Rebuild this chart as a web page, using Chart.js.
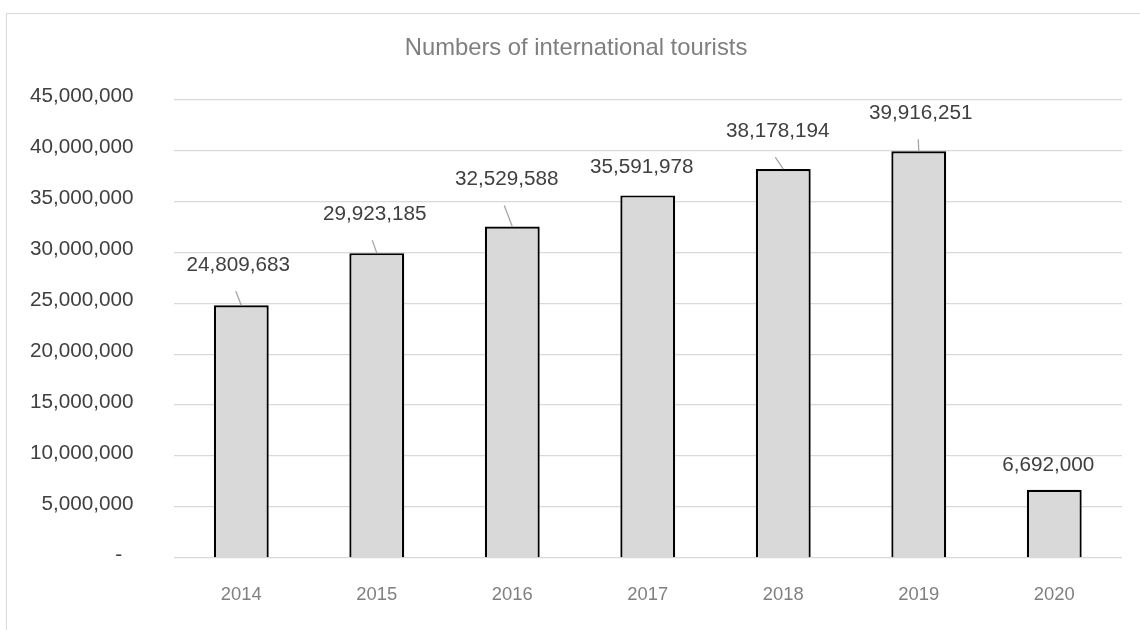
<!DOCTYPE html>
<html>
<head>
<meta charset="utf-8">
<script src="https://cdn.jsdelivr.net/npm/chart.js@4/dist/chart.umd.min.js"></script>
<style>
  html, body { margin: 0; padding: 0; background: #fff; overflow: hidden; }
  #frame { position: absolute; left: 6px; top: 13px; width: 1300px; height: 700px;
           border: 1.5px solid #d9d9d9; }
  #chart { position: absolute; left: 0; top: 0; }
</style>
</head>
<body>
<div id="frame"></div>
<canvas id="chart" width="1140" height="630"></canvas>
<script>
// data
var years = ["2014", "2015", "2016", "2017", "2018", "2019", "2020"];
var tourists = [24809683, 29923185, 32529588, 35591978, 38178194, 39916251, 6692000];
var yTicks = [0, 5000000, 10000000, 15000000, 20000000, 25000000, 30000000, 35000000, 40000000, 45000000];

var FONT = "'Liberation Sans', Arial, Helvetica, sans-serif";

// where each data label sits relative to the top of its bar (dx, dy)
var labelNudge = [[-3, -40], [-2, -39], [-5.5, -47], [-6, -28], [-5.5, -38], [2, -38], [-6, -24.5]];

var barLabels = {
  id: 'barLabels',
  afterDatasetsDraw: function(chart) {
    var ctx = chart.ctx;
    var meta = chart.getDatasetMeta(0);
    ctx.save();
    ctx.font = "20.7px " + FONT;
    ctx.fillStyle = '#404040';
    ctx.textAlign = 'center';
    ctx.textBaseline = 'middle';
    meta.data.forEach(function(bar, i) {
      var cx = bar.x + labelNudge[i][0];
      var cy = bar.y + labelNudge[i][1];
      ctx.fillText(tourists[i].toLocaleString('en-US'), cx, cy);
      var startY = cy + 26;
      if (bar.y - startY > 4) {
        ctx.beginPath();
        ctx.strokeStyle = '#a6a6a6';
        ctx.lineWidth = 1.3;
        ctx.moveTo(cx - 2.5, startY);
        ctx.lineTo(bar.x, bar.y);
        ctx.stroke();
      }
    });
    ctx.restore();
  }
};

var ctx = document.getElementById("chart");

var chartGraph = new Chart(ctx, {
    type: 'bar',
    data: {
        labels: years,
        datasets: [{
            label: 'Numbers of international tourists',
            data: tourists,
            backgroundColor: '#d9d9d9',
            borderColor: '#000000',
            borderWidth: 2.2,
            borderSkipped: 'start',
            categoryPercentage: 1,
            barPercentage: 0.405
        }]
    },
    options: {
        responsive: false,
        animation: false,
        layout: {
            padding: { left: 30, right: 18, top: 34, bottom: 24 }
        },
        plugins: {
            legend: { display: false },
            tooltip: { enabled: false },
            title: {
                display: true,
                text: 'Numbers of international tourists',
                color: '#7f7f7f',
                font: { family: FONT, size: 23.8, weight: 'normal' },
                padding: { top: 0, bottom: 37 }
            }
        },
        scales: {
            x: {
                grid: { display: true, drawOnChartArea: false, drawTicks: true,
                        tickLength: 26, tickColor: 'rgba(0,0,0,0)' },
                border: { display: false },
                ticks: {
                    color: '#808080',
                    font: { family: FONT, size: 18.4 },
                    padding: 0
                }
            },
            y: {
                min: 0,
                max: yTicks[yTicks.length - 1],
                afterBuildTicks: function(axis) {
                    axis.ticks = yTicks.map(function(v) { return { value: v }; });
                },
                grid: { color: '#d9d9d9', lineWidth: 1.3, drawTicks: true,
                        tickLength: 40, tickColor: 'rgba(0,0,0,0)' },
                border: { display: false },
                ticks: {
                    color: '#404040',
                    font: { family: FONT, size: 20.7 },
                    padding: 0,
                    labelOffset: -3,
                    callback: function(value) {
                        if (value === 0) return '-  ';
                        return value.toLocaleString('en-US');
                    }
                }
            }
        }
    },
    plugins: [barLabels]
});
</script>
</body>
</html>
